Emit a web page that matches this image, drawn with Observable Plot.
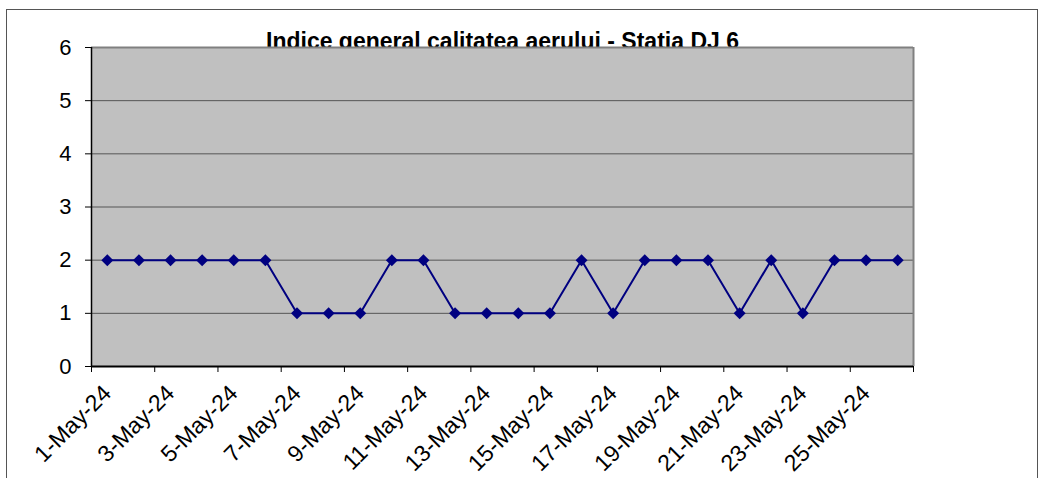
<!DOCTYPE html>
<html><head><meta charset="utf-8">
<script src="https://cdn.jsdelivr.net/npm/d3@7"></script>
<script src="https://cdn.jsdelivr.net/npm/@observablehq/plot@0.6"></script>
<style>html,body{margin:0;padding:0;background:#fff}svg{display:block}</style>
</head><body><div id="chart"></div>
<script>
const dates = ["1-May-24","2-May-24","3-May-24","4-May-24","5-May-24","6-May-24","7-May-24","8-May-24","9-May-24","10-May-24","11-May-24","12-May-24","13-May-24","14-May-24","15-May-24","16-May-24","17-May-24","18-May-24","19-May-24","20-May-24","21-May-24","22-May-24","23-May-24","24-May-24","25-May-24","26-May-24"];
const values = [2,2,2,2,2,2,1,1,1,2,2,1,1,1,1,2,1,2,2,2,1,2,1,2,2,2];
const yTicks = [0,1,2,3,4,5,6];
const title = "Indice general calitatea aerului - Statia DJ 6";

const data = dates.map((d, i) => ({i, date: d, value: values[i]}));
const labelPos = dates.map((d, i) => i).filter(i => i % 2 === 0).map(i => i + 0.5);
const boundaryTicks = d3.range(0, dates.length + 1, 2);

const chart = Plot.plot({
  width: 1039, height: 478,
  marginLeft: 91, marginRight: 126, marginTop: 47, marginBottom: 112,
  style: {fontFamily: "'Liberation Sans', Arial, sans-serif", fontSize: "20px", color: "#000", background: "#fff", overflow: "visible"},
  x: {type: "linear", domain: [0, dates.length], label: null},
  y: {domain: [0, 6], label: null},
  marks: [
    Plot.text([title], {frameAnchor: "top", lineAnchor: "bottom", dy: 1, fontSize: 23, fontWeight: "bold", text: d => d, fill: "#000"}),
    Plot.frame({fill: "#c0c0c0", stroke: null}),
    Plot.gridY(yTicks.slice(1, -1), {stroke: "#555", strokeOpacity: 1}),
    Plot.ruleY([6], {stroke: "#808080", strokeWidth: 2}),
    Plot.ruleX([dates.length], {stroke: "#808080", strokeWidth: 2}),
    Plot.axisY(yTicks, {label: null, tickSize: 6, tickPadding: 14, fontSize: 22, stroke: "#000", tickFormat: d3.format("d")}),
    Plot.ruleX([0], {stroke: "#000", strokeWidth: 1.5}),
    Plot.ruleY([0], {stroke: "#000", strokeWidth: 2}),
    Plot.axisX(boundaryTicks, {label: null, tickSize: 6, tickFormat: () => "", stroke: "#000"}),
    Plot.axisX(labelPos, {label: null, tickSize: 0, tickPadding: 23, tickRotate: -45, fontSize: 23, tickFormat: v => dates[Math.round(v - 0.5)]}),
    Plot.line(data, {x: d => d.i + 0.5, y: "value", stroke: "#000080", strokeWidth: 2}),
    Plot.dot(data, {x: d => d.i + 0.5, y: "value", symbol: "diamond2", r: 5.4, fill: "#000080", stroke: null})
  ]
});
document.getElementById("chart").appendChild(chart);
d3.select(chart).append("rect")
  .attr("x", 6.5).attr("y", 9.5).attr("width", 1031).attr("height", 480)
  .attr("fill", "none").attr("stroke", "#555").attr("stroke-width", 1);
</script>
</body></html>
